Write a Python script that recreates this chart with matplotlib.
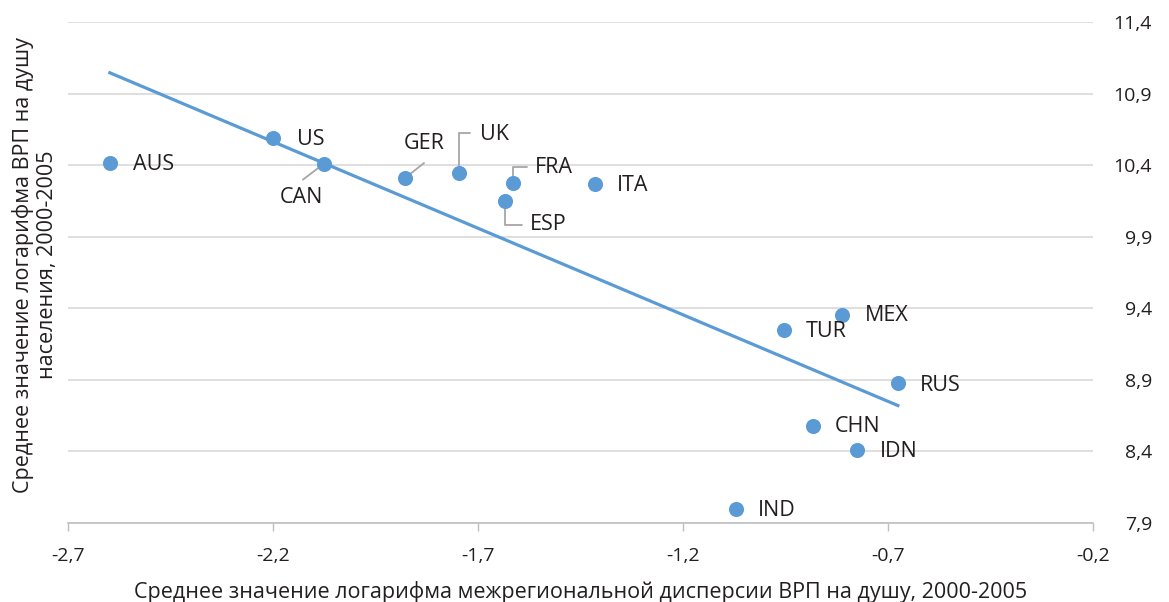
import numpy as np
import matplotlib
matplotlib.use('Agg')
import matplotlib.pyplot as plt
from matplotlib.ticker import FuncFormatter

plt.rcParams['font.family'] = ['Open Sans', 'DejaVu Sans']

# данные
countries = ['AUS', 'US', 'CAN', 'GER', 'UK', 'FRA', 'ESP', 'ITA',
             'MEX', 'TUR', 'RUS', 'CHN', 'IDN', 'IND']
dispersion = [-2.598, -2.200, -2.076, -1.878, -1.746, -1.615, -1.634, -1.415,
              -0.812, -0.954, -0.676, -0.883, -0.776, -1.071]
gdp_pc = [10.416, 10.590, 10.410, 10.310, 10.346, 10.276, 10.150, 10.270,
          9.354, 9.249, 8.878, 8.578, 8.410, 7.998]

x_ticks = [-2.7, -2.2, -1.7, -1.2, -0.7, -0.2]
y_ticks = [7.9, 8.4, 8.9, 9.4, 9.9, 10.4, 10.9, 11.4]

blue = '#5B9BD5'
grey = '#A6A6A6'
ink = '#231F20'

# подписи: смещение текста (px), выравнивание, выноска
label_pos = {
    'AUS': (23, -2, 'left', None),
    'US': (24, -2, 'left', None),
    'CAN': (-22, -34, 'center', ('line', -21, -16)),
    'GER': (19, 35, 'center', ('line', 19, 15)),
    'UK': (21, 38, 'left', ('elbow', 11, 40)),
    'FRA': (22, 15, 'left', ('elbow', 14, 16)),
    'ESP': (25, -24, 'left', ('elbow', 17, -24)),
    'ITA': (22, -2, 'left', None),
    'MEX': (23, -1, 'left', None),
    'TUR': (22, -2, 'left', None),
    'RUS': (22, -2, 'left', None),
    'CHN': (22, -1, 'left', None),
    'IDN': (23, -1, 'left', None),
    'IND': (22, -2, 'left', None),
}

fig = plt.figure(figsize=(11.69, 6.02), dpi=100)
ax = fig.add_axes([0.0582, 0.1312, 0.8768, 0.8323])

# линия тренда (МНК)
k, b = np.polyfit(dispersion, gdp_pc, 1)
xl = np.array([min(dispersion), max(dispersion)])
ax.plot(xl, k * xl + b, color=blue, lw=2.3, zorder=2)

ax.scatter(dispersion, gdp_pc, s=118, color=blue, zorder=4, linewidths=0)

for c, x, y in zip(countries, dispersion, gdp_pc):
    dx, dy, ha, lead = label_pos[c]
    ax.annotate(c, (x, y), xytext=(dx, dy), textcoords='offset pixels',
                ha=ha, va='center', fontsize=15.5, color=ink, zorder=5)
    if lead is not None:
        kind, lx, ly = lead
        cs = 'arc3' if kind == 'line' else 'angle,angleA=0,angleB=90,rad=0'
        ax.annotate('', (x, y), xytext=(lx, ly), textcoords='offset pixels',
                    arrowprops=dict(arrowstyle='-', color=grey, lw=1.3,
                                    shrinkA=0, shrinkB=0, connectionstyle=cs),
                    zorder=3)

ax.set_xlim(-2.7, -0.2)
ax.set_ylim(7.9, 11.4)
ax.set_xticks(x_ticks)
ax.set_yticks(y_ticks)
fmt = FuncFormatter(lambda v, p: f'{v:.1f}'.replace('.', ','))
ax.xaxis.set_major_formatter(fmt)
ax.yaxis.set_major_formatter(fmt)

ax.yaxis.tick_right()
ax.tick_params(axis='y', length=0, pad=42.5, labelsize=14, colors=ink)
for t in ax.get_yticklabels():
    t.set_horizontalalignment('right')
ax.tick_params(axis='x', length=6, width=1, color='#BFBFBF', pad=11,
               labelsize=14, labelcolor=ink)

ax.grid(axis='y', color='#D9D9D9', lw=1.2)
ax.set_axisbelow(True)
for s in ['top', 'left', 'right']:
    ax.spines[s].set_visible(False)
ax.spines['bottom'].set_color('#BFBFBF')
ax.spines['bottom'].set_linewidth(1.2)

ax.set_xlabel('Среднее значение логарифма межрегиональной дисперсии ВРП на душу, 2000-2005',
              fontsize=15.5, color=ink, labelpad=12)
fig.text(0.030, 0.56, 'Среднее значение логарифма ВРП на душу\nнаселения, 2000-2005',
         rotation=90, ha='center', va='center', fontsize=15.5, color=ink,
         multialignment='center', linespacing=1.15)

fig.savefig('out.png', dpi=100)
